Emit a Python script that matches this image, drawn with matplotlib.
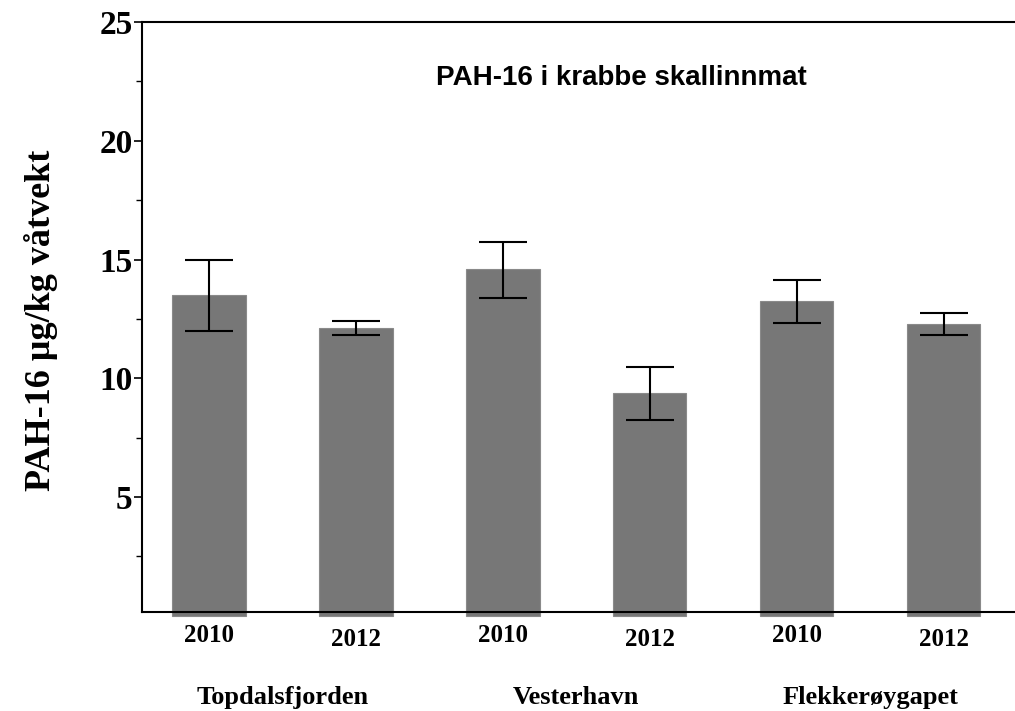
import matplotlib.pyplot as plt
from matplotlib.ticker import MultipleLocator

# data
years = ['2010', '2012', '2010', '2012', '2010', '2012']
sites = ['Topdalsfjorden', 'Vesterhavn', 'Flekkerøygapet']
verdier = [13.5, 12.1, 14.58, 9.36, 13.25, 12.27]
feil_ned = [1.52, 0.28, 1.19, 1.1, 0.94, 0.45]
feil_opp = [1.47, 0.31, 1.15, 1.12, 0.89, 0.46]

serif = 'Liberation Serif'

fig = plt.figure(figsize=(10.15, 7.11), dpi=100)
ax = fig.add_axes([0.140, 0.139, 0.862, 0.830])

x = list(range(1, len(verdier) + 1))
bars = ax.bar(x, verdier, width=0.5, color='#777777', edgecolor='#8a8a8a', linewidth=0.8, zorder=2)
for b in bars:
    b.set_clip_on(False)
ax.errorbar(x, verdier, yerr=[feil_ned, feil_opp], fmt='none', ecolor='black',
            elinewidth=1.5, capsize=17, capthick=1.5, zorder=3)

ax.set_xlim(0.545, 6.5)
ax.set_ylim(0.15, 25)
ax.yaxis.set_major_locator(MultipleLocator(5))
ax.yaxis.set_minor_locator(MultipleLocator(2.5))
ax.set_yticks([5, 10, 15, 20, 25])
ax.tick_params(axis='y', which='major', length=6, width=1.2, labelsize=24, pad=1)
ax.tick_params(axis='y', which='minor', length=4, width=1.0)
for lbl in ax.get_yticklabels():
    lbl.set_fontfamily(serif)
    lbl.set_fontweight('bold')

ax.set_xticks([])
ax.spines['right'].set_visible(False)
for s in ['left', 'top', 'bottom']:
    ax.spines[s].set_linewidth(1.5)

# year labels (slightly staggered like the original)
trans = ax.get_xaxis_transform()
for i, (xi, yr) in enumerate(zip(x, years)):
    off = -0.040 if i % 2 == 0 else -0.047
    ax.text(xi, off, yr, transform=trans, ha='center', va='center',
            fontfamily=serif, fontweight='bold', fontsize=18)

# site labels centred between each pair of bars
for j, site in enumerate(sites):
    xm = (x[2 * j] + x[2 * j + 1]) / 2
    ax.text(xm, -0.145, site, transform=trans, ha='center', va='center',
            fontfamily=serif, fontweight='bold', fontsize=19)

ax.text(0.548, 0.905, 'PAH-16 i krabbe skallinnmat', transform=ax.transAxes,
        ha='center', va='center', fontfamily='Liberation Sans', fontweight='bold', fontsize=20)

fig.text(0.040, 0.55, 'PAH-16 µg/kg våtvekt', rotation=90, ha='center', va='center',
         fontfamily=serif, fontweight='bold', fontsize=26)

fig.savefig('out.png', dpi=100)
